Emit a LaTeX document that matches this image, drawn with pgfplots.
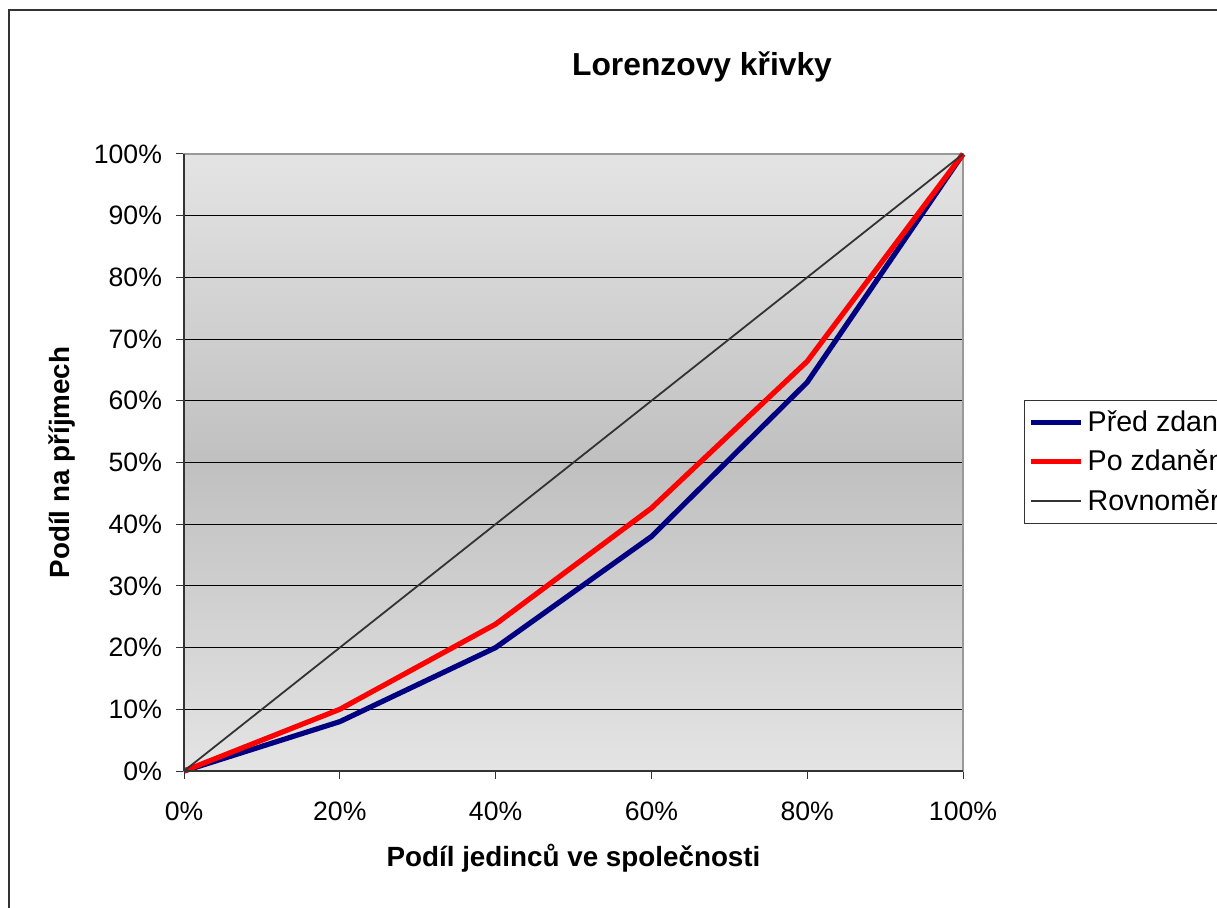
\documentclass[border=0pt]{standalone}
\usepackage{fontspec}
\setmainfont{Liberation Sans}
\usepackage{pgfplots}
\pgfplotsset{compat=1.18}
\definecolor{navyline}{HTML}{000080}
\definecolor{bgmid}{HTML}{C0C0C0}
\definecolor{bgedge}{HTML}{E4E4E4}
\begin{document}
\begin{tikzpicture}
\path[use as bounding box, clip] (0,0) rectangle (608.5pt,453.5pt);
\fill[white] (0,0) rectangle (608.5pt,453.5pt);
\draw[black!80, line width=0.9pt] (4.5pt,-10pt) rectangle (640pt,448.5pt);
\begin{axis}[
  at={(92pt,68pt)}, anchor=south west,
  scale only axis, width=389.5pt, height=308.5pt,
  xmin=0, xmax=100, ymin=0, ymax=100,
  xtick={0,20,40,60,80,100}, ytick={0,10,...,100},
  xticklabel={\pgfmathprintnumber{\tick}\%},
  yticklabel={\pgfmathprintnumber{\tick}\%},
  /pgf/number format/assume math mode=true,
  tick label style={font=\fontsize{13.3}{16}\selectfont},
  xticklabel style={yshift=-8pt},
  yticklabel style={xshift=-3.5pt},
  tick align=outside, major tick length=4pt,
  tick style={black!80, line width=0.5pt},
  xtick pos=bottom, ytick pos=left,
  ymajorgrids, grid style={black, line width=0.5pt},
  axis line style={gray!80, line width=1pt},
  axis background/.style={top color=bgedge, bottom color=bgedge, middle color=bgmid},
  every axis title shift=0pt,
  title={\bfseries Lorenzovy křivky},
  title style={font=\fontsize{15.9}{18}\selectfont, at={(rel axis cs:0.665,1.141)}, anchor=center},
  xlabel={\bfseries Podíl jedinců ve společnosti},
  xlabel style={font=\fontsize{13.9}{16}\selectfont, at={(rel axis cs:0.5,-0.141)}, anchor=center},
  ylabel={\bfseries Podíl na příjmech},
  ylabel style={font=\fontsize{13.9}{16}\selectfont, at={(rel axis cs:-0.157,0.5)}, anchor=center, rotate=0},
  legend style={at={(rel axis cs:1.0783,0.6013)}, anchor=north west, draw=black!80, fill=white, line width=0.5pt,
    font=\fontsize{14.3}{17}\selectfont, row sep=3.6pt, inner xsep=2pt, inner ysep=3pt},
  legend cell align=left,
  legend image code/.code={\draw[#1] (0pt,0pt) -- (25pt,0pt);},
  clip=false,
]
\addplot[navyline, line width=2.6pt, line join=round] coordinates {(0,0) (20,8) (40,20) (60,38) (80,63) (100,100)};
\addlegendentry{Před zdaněním}
\addplot[red, line width=2.6pt, line join=round] coordinates {(0,0) (20,10) (40,23.8) (60,42.6) (80,66.4) (100,100)};
\addlegendentry{Po zdanění}
\addplot[black!80, line width=0.9pt] coordinates {(0,0) (20,20) (40,40) (60,60) (80,80) (100,100)};
\addlegendentry{Rovnoměrné rozdělení}
\draw[black!80, line width=1pt] (rel axis cs:0,0) -- (rel axis cs:0,1);
\draw[black!80, line width=1pt] (rel axis cs:0,0) -- (rel axis cs:1,0);
\end{axis}
\end{tikzpicture}
\end{document}
